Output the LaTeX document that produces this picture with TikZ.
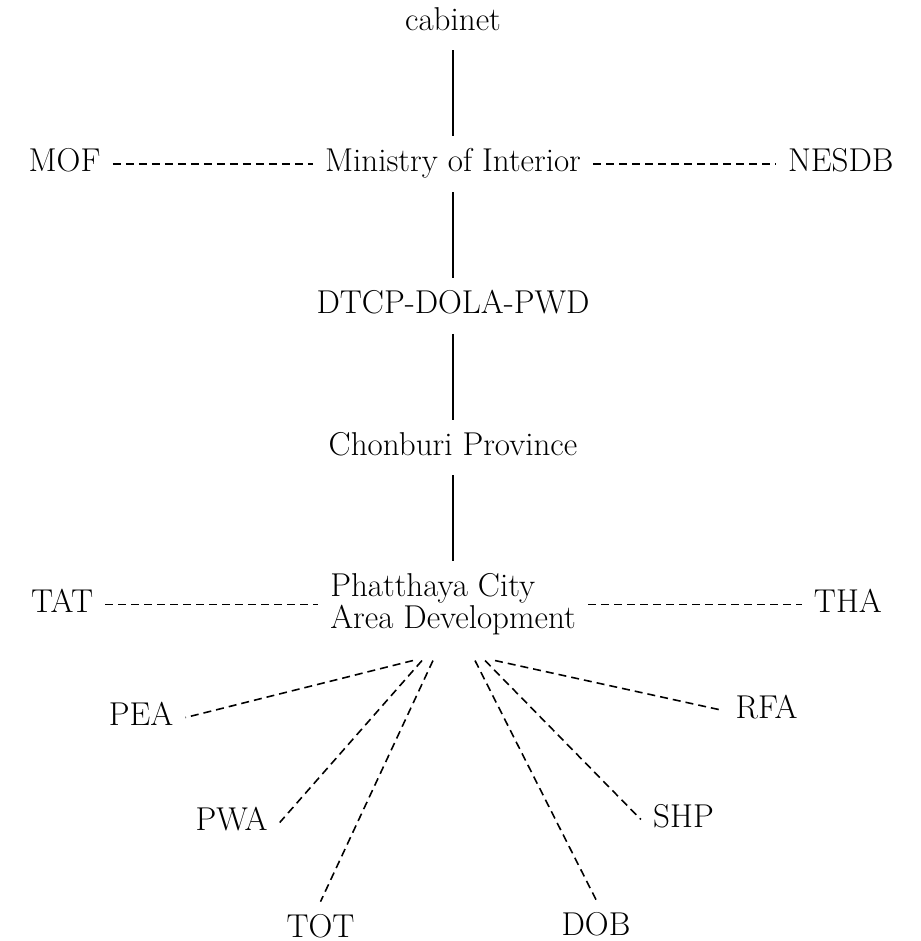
\documentclass[tikz,border=0pt]{standalone}
\usetikzlibrary{positioning}

\begin{document}
\begin{tikzpicture}[
    node distance=1.72cm,
    unit/.style={font=\fontsize{18.8}{14}\selectfont, inner sep=0.24cm, text height=0.46cm, text depth=0.16cm},
    twoline/.style={font=\fontsize{18.8}{14}\selectfont, inner sep=0.24cm, align=left},
    tie/.style={line width=1pt},
    liaison/.style={line width=0.9pt, dash pattern=on 0.16cm off 0.1cm}
]
\useasboundingbox (0,0) rectangle (18.42,-18.82);

% Nodes
\node[unit] (cabinet) at (9.06,-0.45) {cabinet};
\node[unit, below=of cabinet] (moi) {Ministry of Interior};
\node[unit, below=of moi] (dtcp) {DTCP-DOLA-PWD};
\node[unit, below=of dtcp] (chonburi) {Chonburi Province};
\node[twoline, below=of chonburi] (pcad) {Phatthaya City\\Area Development};

\node[unit, left=4cm of moi] (mof) {MOF};
\node[unit, right=3.65cm of moi] (nesdb) {NESDB};
\node[unit, left=4.25cm of pcad] (tat) {TAT};
\node[unit, right=4.27cm of pcad] (tha) {THA};

% Agencies
\node[unit] (pea) at (2.82,-14.35) {PEA};
\node[unit] (pwa) at (4.63,-16.45) {PWA};
\node[unit] (tot) at (6.41,-18.59) {TOT};
\node[unit] (dob) at (11.92,-18.55) {DOB};
\node[unit] (shp) at (13.67,-16.39) {SHP};
\node[unit] (rfa) at (15.33,-14.21) {RFA};

% Fan-out points
\coordinate (fPEA) at ([shift={(-0.8,-0.26)}]pcad.south);
\coordinate (fPWA) at ([shift={(-0.62,-0.26)}]pcad.south);
\coordinate (fTOT) at ([shift={(-0.4,-0.26)}]pcad.south);
\coordinate (fDOB) at ([shift={(0.44,-0.26)}]pcad.south);
\coordinate (fSHP) at ([shift={(0.64,-0.26)}]pcad.south);
\coordinate (fRFA) at ([shift={(0.84,-0.26)}]pcad.south);

% Lines
\draw[tie] (cabinet) -- (moi);
\draw[tie] (moi) -- (dtcp);
\draw[tie] (dtcp) -- (chonburi);
\draw[tie] (chonburi) -- (pcad);

\draw[liaison] (mof) -- (moi);
\draw[liaison] (moi) -- (nesdb);
\draw[liaison] (tat) -- (pcad);
\draw[liaison] (pcad) -- (tha);

\draw[liaison] (fPEA) -- (pea.east);
\draw[liaison] (fPWA) -- (pwa.east);
\draw[liaison] (fTOT) -- (tot.north);
\draw[liaison] (fDOB) -- (dob.north);
\draw[liaison] (fSHP) -- (shp.west);
\draw[liaison] (fRFA) -- (rfa.west);

\end{tikzpicture}
\end{document}
